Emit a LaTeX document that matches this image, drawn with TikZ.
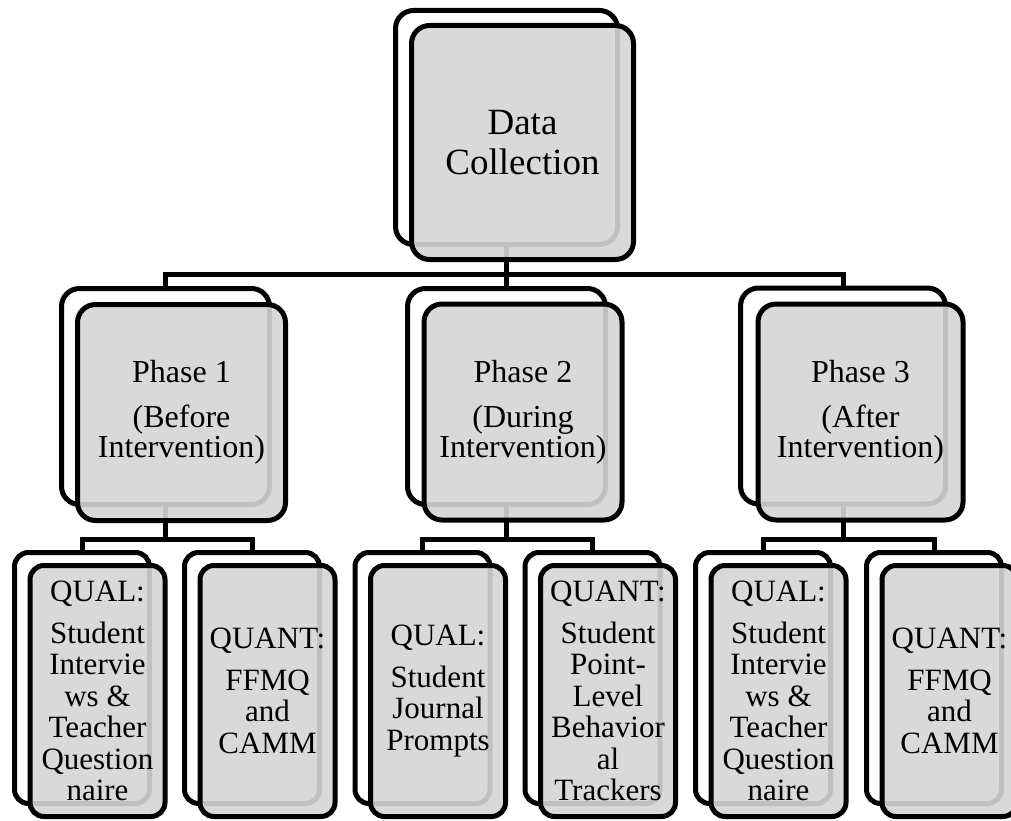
\documentclass[tikz,border=0pt]{standalone}
\usepackage{fontspec}
\setmainfont{Liberation Serif}
\definecolor{cardfill}{gray}{0.834}
\begin{document}
\begin{tikzpicture}[x=1pt,y=-1pt,
  backbox/.style={draw=black,line width=5pt,fill=white,rounded corners=#1,inner sep=0pt},
  backbox/.default=18pt,
  frontbox/.style={draw=black,line width=5pt,fill=cardfill,fill opacity=0.9,text opacity=1,
    rounded corners=#1,inner sep=0pt,align=center,text=black},
  frontbox/.default=18pt,
  conn/.style={draw=black,line width=5pt},
  topsize/.style={minimum width=222pt,minimum height=234pt},
  phsize/.style={minimum width=#1,minimum height=216pt},
  chsize/.style={minimum width=135pt,minimum height=251pt},
  topfont/.style={font=\fontsize{37}{40}\selectfont},
  phfont/.style={font=\fontsize{32}{30}\selectfont},
  chfont/.style={font=\fontsize{31}{31.5}\selectfont}
]
\useasboundingbox (0,0) rectangle (1011,821);
\clip (0,0) rectangle (1011,821);

% back cards
\node[backbox,topsize] (dc) at (506.5,127.5) {};
\node[backbox,phsize=208pt] (p1) at (165.5,396.5) {};
\node[backbox,phsize=198pt] (p2) at (506.5,396.5) {};
\node[backbox,phsize=205pt] (p3) at (843,396) {};
\node[backbox=14pt,chsize] (c1) at (82,678) {};
\node[backbox=14pt,chsize] (c2) at (252,678) {};
\node[backbox=14pt,chsize] (c3) at (422.5,678) {};
\node[backbox=14pt,chsize] (c4) at (592.5,678) {};
\node[backbox=14pt,chsize] (c5) at (763,678) {};
\node[backbox=14pt,chsize] (c6) at (934,678) {};

% connectors
\coordinate (j0) at (506.5,274);
\coordinate (j1) at (165.5,539);
\coordinate (j2) at (506.5,539);
\coordinate (j3) at (843,539);
\draw[conn] (dc.south) -- (j0);
\draw[conn] (j0) -| (p1.north);
\draw[conn] (j0) -| (p3.north);
\draw[conn] (j0) -- (p2.north);
\draw[conn] (p1.south) -- (j1);
\draw[conn] (j1) -| (c1.north);
\draw[conn] (j1) -| (c2.north);
\draw[conn] (p2.south) -- (j2);
\draw[conn] (j2) -| (c3.north);
\draw[conn] (j2) -| (c4.north);
\draw[conn] (p3.south) -- (j3);
\draw[conn] (j3) -| (c5.north);
\draw[conn] (j3) -| (c6.north);

% front cards
\node[frontbox,topsize,topfont] (dcf) at (522.5,142.5) {Data\\Collection};
\node[frontbox,phsize=208pt,phfont] (p1f) at (181.5,412.5) {Phase 1\\[15pt](Before\\Intervention)};
\node[frontbox,phsize=198pt,phfont] (p2f) at (523,412) {Phase 2\\[15pt](During\\Intervention)};
\node[frontbox,phsize=205pt,phfont] (p3f) at (860.5,412) {Phase 3\\[15pt](After\\Intervention)};
\node[frontbox=14pt,chsize,chfont] (c1f) at (97.5,691) {QUAL:\\[10pt]Student\\Intervie\\ws \&\\Teacher\\Question\\naire};
\node[frontbox=14pt,chsize,chfont] (c2f) at (267.5,691) {QUANT:\\[10pt]FFMQ\\and\\CAMM};
\node[frontbox=14pt,chsize,chfont] (c3f) at (438,691) {QUAL:\\[10pt]Student\\Journal\\Prompts};
\node[frontbox=14pt,chsize,chfont] (c4f) at (608,691) {QUANT:\\[10pt]Student\\Point-\\Level\\Behavior\\al\\Trackers};
\node[frontbox=14pt,chsize,chfont] (c5f) at (778.5,691) {QUAL:\\[10pt]Student\\Intervie\\ws \&\\Teacher\\Question\\naire};
\node[frontbox=14pt,chsize,chfont] (c6f) at (949.5,691) {QUANT:\\[10pt]FFMQ\\and\\CAMM};
\end{tikzpicture}
\end{document}
